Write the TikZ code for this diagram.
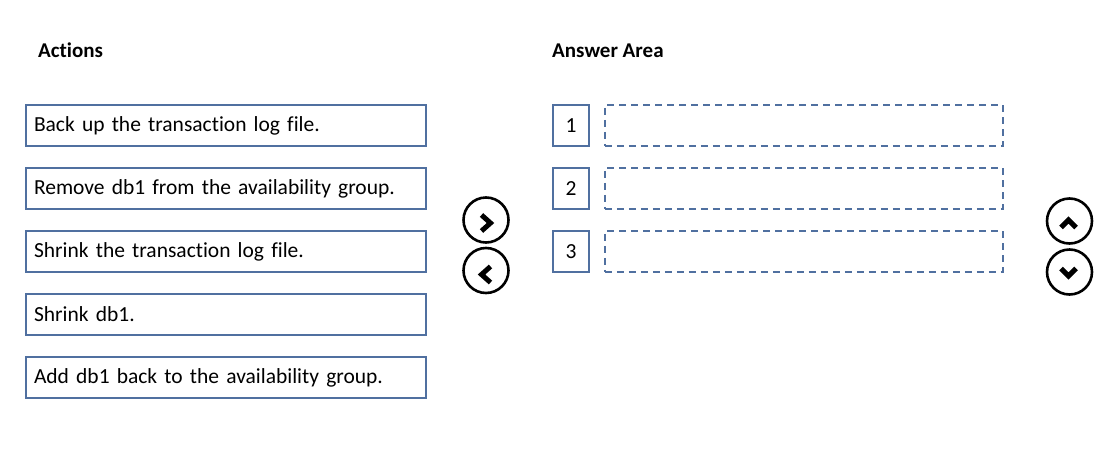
\documentclass[tikz,border=0pt]{standalone}
\usepackage{fontspec}
\setmainfont{Carlito}[Ligatures=NoCommon]
\definecolor{boxblue}{RGB}{80,112,160}
\begin{document}
\begin{tikzpicture}[x=1pt,y=-1pt,
  action/.style={draw=boxblue,line width=2pt,minimum width=400pt,minimum height=41pt,anchor=north west,inner xsep=8pt,text width=384pt,align=left,font=\fontsize{21.5}{24}\selectfont},
  numbox/.style={draw=boxblue,line width=2pt,minimum width=36pt,minimum height=41pt,anchor=north west,inner sep=0pt,font=\fontsize{21.5}{24}\selectfont},
  slot/.style={draw=boxblue,line width=1.6pt,dash pattern=on 7pt off 5pt,minimum width=398pt,minimum height=41pt,anchor=north west,inner sep=0pt},
  btn/.style={circle,draw=black,line width=2.6pt,minimum size=45pt,inner sep=0pt},
  chev/.style={line width=5pt,line cap=butt,line join=miter},
  head/.style={anchor=base west,font=\fontsize{21}{24}\selectfont\bfseries}]
\useasboundingbox (0,0) rectangle (1107,450);
\fill[white] (0,0) rectangle (1107,450);
\node[head,inner sep=0pt] (acth) at (38,57) {Actions};
\node[head,inner sep=0pt] (ansh) at (552,57) {Answer Area};
\node[action] (a1) at (25,104) {Back up the transaction log file.};
\node[action] (a2) at (25,167) {Remove db1 from the availability group.};
\node[action] (a3) at (25,230) {Shrink the transaction log file.};
\node[action] (a4) at (25,293) {Shrink db1.};
\node[action] (a5) at (25,356) {Add db1 back to the availability group.};
\node[numbox] (n1) at (552,104) {1};
\node[numbox] (n2) at (552,167) {2};
\node[numbox] (n3) at (552,230) {3};
\node[slot] (s1) at (604,104) {};
\node[slot] (s2) at (604,167) {};
\node[slot] (s3) at (604,230) {};
\node[btn] (right) at (486,220) {};
\node[btn] (left) at (486,270.5) {};
\node[btn] (up) at (1069.5,221) {};
\node[btn] (down) at (1069.5,272) {};
\draw[chev] ([shift={(-4.5,-5)}]right.center) -- ([shift={(4.5,3)}]right.center) -- ([shift={(-4.5,11)}]right.center);
\draw[chev] ([shift={(4.5,-4)}]left.center) -- ([shift={(-4.5,4)}]left.center) -- ([shift={(4.5,12)}]left.center);
\draw[chev] ([shift={(-8.5,6.5)}]up.center) -- ([shift={(-1,-1)}]up.center) -- ([shift={(6.5,6.5)}]up.center);
\draw[chev] ([shift={(-8.5,-3.5)}]down.center) -- ([shift={(-1,4)}]down.center) -- ([shift={(6.5,-3.5)}]down.center);
\end{tikzpicture}
\end{document}
